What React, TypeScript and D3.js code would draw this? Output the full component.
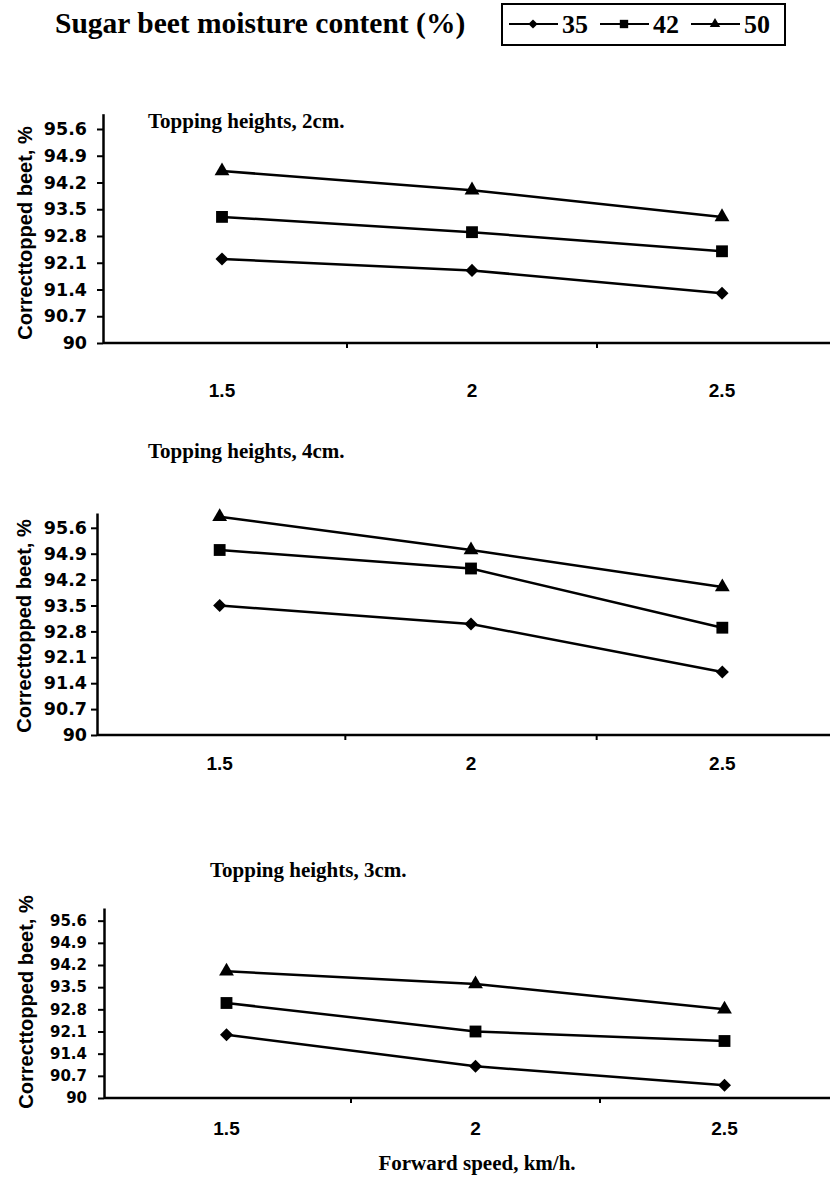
import React, { useEffect, useRef } from 'react';
import * as d3 from 'd3';

// forward speed categories (km/h)
const speeds = ['1.5', '2', '2.5'];
// sugar beet moisture content (%)
const moistureLevels = ['35', '42', '50'];
const yTicks = [90, 90.7, 91.4, 92.1, 92.8, 93.5, 94.2, 94.9, 95.6];
const panelTitles = ['Topping heights, 2cm.', 'Topping heights, 4cm.', 'Topping heights, 3cm.'];

// correct topped beet, % — topping height 2cm
const h2_m35 = [92.2, 91.9, 91.3];
const h2_m42 = [93.3, 92.9, 92.4];
const h2_m50 = [94.5, 94.0, 93.3];
// topping height 4cm
const h4_m35 = [93.5, 93.0, 91.7];
const h4_m42 = [95.0, 94.5, 92.9];
const h4_m50 = [95.9, 95.0, 94.0];
// topping height 3cm
const h3_m35 = [92.0, 91.0, 90.4];
const h3_m42 = [93.0, 92.1, 91.8];
const h3_m50 = [94.0, 93.6, 92.8];

const panelSeries = [
  [h2_m35, h2_m42, h2_m50],
  [h4_m35, h4_m42, h4_m50],
  [h3_m35, h3_m42, h3_m50],
];

// layout for each of the three stacked plots
const panels = [
  { axisX: 103, band: [97, 847], bottom: 343, top: 113.7, titleX: 148, titleY: 128, labelY: 397, tickFont: 17.5, pad: 10, yTitleX: 32, yTitleY: 233 },
  { axisX: 97, band: [94, 848], bottom: 735, top: 513, titleX: 148, titleY: 458, labelY: 770, tickFont: 17.5, pad: 4, yTitleX: 31, yTitleY: 626 },
  { axisX: 104, band: [102, 849], bottom: 1098, top: 908, titleX: 210, titleY: 877, labelY: 1135, tickFont: 15, pad: 11, yTitleX: 33, yTitleY: 1002 },
];

const symbols = [
  { type: d3.symbolSquare, size: 85, rotate: 45 },
  { type: d3.symbolSquare, size: 140, rotate: 0 },
  { type: d3.symbolTriangle, size: 95, rotate: 0 },
];

const serif = '"Liberation Serif", "Times New Roman", serif';
const sans = '"Liberation Sans", Arial, sans-serif';

const App = () => {
  const svgRef = useRef(null);

  useEffect(() => {
    const svg = d3.select(svgRef.current);
    svg.selectAll('*').remove();

    // header title
    svg.append('text')
      .attr('x', 55).attr('y', 33)
      .attr('font-family', serif).attr('font-weight', 'bold').attr('font-size', 29.5)
      .text('Sugar beet moisture content (%)');

    // legend
    const legend = svg.append('g');
    legend.append('rect')
      .attr('x', 502).attr('y', 4).attr('width', 283).attr('height', 41)
      .attr('fill', 'none').attr('stroke', '#000').attr('stroke-width', 2);
    const legendX = d3.scaleBand().domain(moistureLevels).range([509, 782]);
    moistureLevels.forEach((m, i) => {
      const x0 = legendX(m);
      legend.append('line')
        .attr('x1', x0).attr('x2', x0 + 49).attr('y1', 24).attr('y2', 24)
        .attr('stroke', '#000').attr('stroke-width', 2);
      legend.append('path')
        .attr('d', d3.symbol(symbols[i].type, symbols[i].size * 0.5)())
        .attr('transform', `translate(${x0 + 24},24) rotate(${symbols[i].rotate})`);
      legend.append('text')
        .attr('x', x0 + 53).attr('y', 33)
        .attr('font-family', serif).attr('font-weight', 'bold').attr('font-size', 26)
        .text(m);
    });

    panels.forEach((p, pi) => {
      const x = d3.scaleBand().domain(speeds).range(p.band);
      const y = d3.scaleLinear().domain([90, 96]).range([p.bottom, p.top]);
      const g = svg.append('g');

      // y axis
      const yAxis = g.append('g')
        .attr('transform', `translate(${p.axisX},0)`)
        .call(d3.axisLeft(y).tickValues(yTicks).tickSize(6).tickSizeOuter(0).tickPadding(p.pad).tickFormat(d => String(d)));
      yAxis.select('.domain').attr('stroke-width', 2.5);
      yAxis.selectAll('.tick line').attr('stroke-width', 2);
      yAxis.selectAll('text')
        .attr('font-family', '"DejaVu Sans", sans-serif').attr('font-weight', 'bold')
        .attr('font-size', p.tickFont).attr('fill', '#000');

      // x axis line with boundary ticks
      g.append('line')
        .attr('x1', p.axisX).attr('x2', 830).attr('y1', p.bottom).attr('y2', p.bottom)
        .attr('stroke', '#000').attr('stroke-width', 2.5);
      g.selectAll('.xtick')
        .data(speeds.slice(1))
        .enter().append('line')
        .attr('x1', d => x(d)).attr('x2', d => x(d))
        .attr('y1', p.bottom).attr('y2', p.bottom + 5)
        .attr('stroke', '#000').attr('stroke-width', 2);
      g.selectAll('.xlabel')
        .data(speeds)
        .enter().append('text')
        .attr('x', d => x(d) + x.bandwidth() / 2)
        .attr('y', p.labelY)
        .attr('text-anchor', 'middle')
        .attr('font-family', sans).attr('font-weight', 'bold').attr('font-size', 19)
        .text(d => d);

      // y title
      g.append('text')
        .attr('transform', `translate(${p.yTitleX},${p.yTitleY}) rotate(-90)`)
        .attr('text-anchor', 'middle')
        .attr('font-family', sans).attr('font-weight', 'bold').attr('font-size', 20)
        .text('Correcttopped beet, %');

      // panel title
      g.append('text')
        .attr('x', p.titleX).attr('y', p.titleY)
        .attr('font-family', serif).attr('font-weight', 'bold').attr('font-size', 21)
        .text(panelTitles[pi]);

      const line = d3.line()
        .x((d, i) => x(speeds[i]) + x.bandwidth() / 2)
        .y(d => y(d));

      panelSeries[pi].forEach((vals, si) => {
        g.append('path')
          .attr('d', line(vals))
          .attr('fill', 'none').attr('stroke', '#000').attr('stroke-width', 2.5);
        g.selectAll(`.m${si}`)
          .data(vals)
          .enter().append('path')
          .attr('d', d3.symbol(symbols[si].type, symbols[si].size)())
          .attr('transform', (d, i) => `translate(${x(speeds[i]) + x.bandwidth() / 2},${y(d)}) rotate(${symbols[si].rotate})`)
          .attr('fill', '#000');
      });
    });

    // x axis title
    svg.append('text')
      .attr('x', 477).attr('y', 1170)
      .attr('text-anchor', 'middle')
      .attr('font-family', serif).attr('font-weight', 'bold').attr('font-size', 21)
      .text('Forward speed, km/h.');
  }, []);

  return (
    <svg ref={svgRef} width="830" height="1177"
      style={{ position: 'absolute', left: 0, top: 0, background: '#fff' }}></svg>
  );
};

export default App;
